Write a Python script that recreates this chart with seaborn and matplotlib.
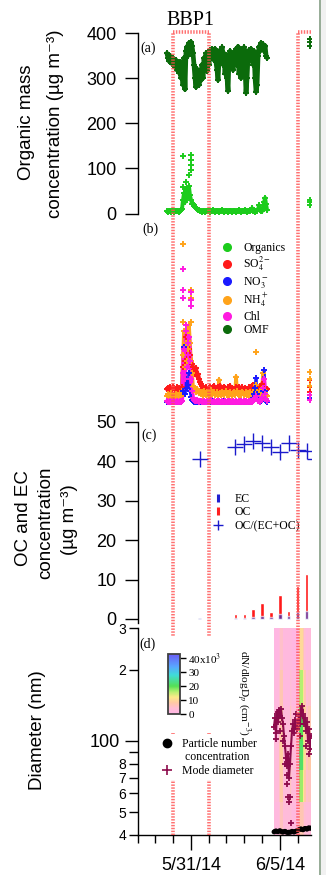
import numpy as np
import pandas as pd
import matplotlib
matplotlib.use("Agg")
import matplotlib.pyplot as plt
import matplotlib.dates as mdates
import matplotlib.ticker as mticker
from matplotlib.colors import LinearSegmentedColormap, Normalize
from matplotlib.lines import Line2D
from matplotlib.patches import Rectangle
import seaborn as sns

# ---------------- data ----------------
t_origin = "2014-05-28 00:00"
t_end = "2014-06-06 18:00"
bbp_starts = ["2014-05-30 00:00", "2014-06-06 00:00"]
bbp_ends = ["2014-06-01 00:00", "2014-06-08 00:00"]
bbp_names = ["BBP1", "BBP2"]
date_ticks = ["2014-05-31", "2014-06-05"]

# AMS (regular sampling)
ams_start = "2014-05-29 15:45"
ams_step = "81min"
omf = [355, 345, 338, 350, 340, 332, 345, 335, 325, 340,
       318, 330, 312, 335, 300, 320, 285, 345, 275, 360,
       370, 350, 378, 365, 380, 372, 355, 330, 300, 280,
       320, 305, 285, 310, 295, 330, 300, 345, 325, 355,
       315, 340, 330, 362, 345, 365, 358, 340, 365, 335,
       318, 296, 340, 362, 340, 368, 330, 355, 310, 350,
       300, 272, 345, 360, 330, 350, 318, 355, 340, 365,
       330, 370, 310, 355, 300, 362, 340, 368, 320, 268,
       300, 350, 362, 340, 365, 355, 330, 360, 300, 270,
       285, 350, 370, 360, 378, 365, 375, 360, 372, 350,
       345]
organics = [5, 4, 6, 5, 4, 5, 6, 4, 5, 5,
            6, 5, 4, 6, 8, 10, 30, 45, 25, 55,
            35, 50, 60, 40, 30, 22, 20, 18, 15, 12,
            10, 8, 7, 6, 5, 4, 5, 6, 4, 5,
            5, 6, 5, 4, 5, 6, 7, 5, 4, 5,
            6, 5, 4, 5, 6, 8, 5, 4, 5, 6,
            5, 4, 5, 5, 6, 4, 5, 6, 5, 4,
            5, 6, 7, 5, 4, 5, 6, 5, 7, 5,
            4, 5, 6, 5, 8, 12, 6, 5, 4, 5,
            6, 10, 18, 8, 6, 5, 12, 25, 35, 20,
            8]
so4 = [2.3, 2.5, 2.2, 2.6, 2.4, 2.3, 2.7, 2.5, 2.2, 2.4,
       2.6, 2.3, 2.5, 2.4, 2.2, 2.6, 6.0, 9.0, 7.0, 11.0,
       8.0, 10.0, 9.0, 8.0, 7.0, 6.5, 6.0, 5.5, 5.0, 5.8,
       4.5, 4.8, 4.0, 3.5, 3.2, 2.8, 2.5, 2.2, 2.4, 2.6,
       2.3, 2.1, 2.5, 2.7, 2.4, 2.2, 2.6, 2.8, 2.3, 2.1,
       2.4, 2.6, 2.5, 2.9, 2.3, 2.1, 2.4, 2.7, 2.5, 2.3,
       2.2, 2.6, 2.4, 2.8, 2.2, 2.5, 2.3, 2.1, 2.4, 2.6,
       2.3, 2.5, 2.7, 2.4, 2.2, 2.6, 2.3, 2.1, 2.5, 2.2,
       2.0, 2.4, 2.6, 2.3, 2.1, 2.8, 3.0, 2.6, 2.4, 2.2,
       2.5, 2.7, 2.4, 2.2, 2.6, 3.2, 2.5, 2.3, 2.0, 2.2,
       2.4]
nh4 = [1.2, 1.5, 1.0, 1.3, 1.6, 1.1, 1.4, 1.2, 1.0, 1.5,
       1.3, 1.1, 1.4, 1.6, 1.2, 2.0, 8.0, 12.0, 6.0, 10.0,
       7.0, 9.0, 13.0, 10.0, 7.0, 5.0, 2.8, 2.2, 2.5, 1.8,
       2.4, 2.0, 1.6, 1.9, 1.5, 1.8, 1.2, 2.0, 1.6, 1.3,
       1.9, 1.5, 1.2, 1.7, 2.1, 1.4, 1.6, 1.9, 1.3, 1.5,
       1.8, 1.2, 3.9, 1.6, 1.4, 1.8, 1.5, 1.3, 1.7, 2.0,
       1.4, 1.6, 1.3, 1.8, 1.5, 1.2, 1.6, 1.9, 1.4, 4.4,
       2.0, 1.5, 1.3, 1.7, 1.4, 1.8, 1.6, 1.3, 1.5, 1.9,
       1.3, 1.6, 1.2, 1.8, 1.5, 1.4, 1.9, 1.6, 2.2, 3.0,
       1.8, 1.5, 1.3, 1.7, 2.0, 2.4, 5.0, 2.2, 1.6, 1.4,
       1.2]
chl = [0.3, 0.2, 0.1, 0.3, 0.2, 0.2, 0.1, 0.3, 0.2, 0.2,
       0.3, 0.1, 0.2, 0.3, 0.2, 0.4, 5.0, 9.0, 4.0, 12.0,
       6.0, 8.0, 11.0, 7.0, 4.0, 2.0, 0.8, 0.5, 0.4, 0.3,
       0.5, 0.3, 0.2, 0.4, 0.3, 0.2, 0.2, 0.4, 0.2, 0.1,
       0.3, 0.2, 0.2, 0.3, 0.5, 0.2, 0.1, 0.3, 0.2, 0.2,
       0.4, 0.2, 0.3, 0.2, 0.1, 0.3, 0.2, 0.2, 0.4, 0.2,
       0.1, 0.3, 0.2, 0.3, 0.2, 0.2, 0.4, 0.2, 0.1, 0.3,
       0.2, 0.2, 0.3, 0.2, 0.4, 0.2, 0.1, 0.3, 0.2, 0.3,
       0.2, 0.1, 0.3, 0.2, 0.4, 0.2, 0.3, 0.5, 0.8, 1.2,
       0.6, 0.4, 0.3, 0.2, 0.5, 1.0, 2.5, 4.0, 1.5, 0.6,
       0.3]
no3 = [0.1, 0.2, 0.1, 0.1, 0.2, 0.1, 0.1, 0.2, 0.1, 0.1,
       0.2, 0.1, 0.1, 0.2, 0.1, 0.3, 2.0, 9.4, 1.5, 4.0,
       2.5, 3.0, 5.0, 2.0, 1.0, 0.5, 0.3, 0.2, 0.2, 0.1,
       0.2, 0.1, 0.1, 0.2, 0.1, 0.2, 0.1, 0.1, 0.2, 0.1,
       0.1, 0.2, 0.1, 0.1, 0.2, 0.1, 0.3, 0.1, 0.1, 0.2,
       0.1, 0.1, 0.2, 0.1, 0.1, 0.2, 0.1, 0.3, 0.1, 0.1,
       0.2, 0.1, 0.1, 0.2, 0.1, 0.1, 0.2, 0.1, 0.1, 0.2,
       0.1, 0.1, 0.2, 0.1, 0.3, 0.1, 0.1, 0.2, 0.1, 0.1,
       0.2, 0.1, 0.1, 0.3, 0.2, 0.4, 0.8, 1.5, 2.5, 4.2,
       1.5, 0.6, 0.3, 0.2, 0.4, 0.8, 2.0, 5.5, 2.0, 0.4,
       0.2]

# extra AMS points (hours since origin)
org_extra_h = [61.3, 61.3, 72.1, 72.1, 72.1, 72.1, 69.4, 65.4, 232.6, 232.6, 232.6]
org_extra_v = [127, 58, 130, 118, 108, 97, 85, 70, 18, 25, 31]
omf_extra_h = [232.6, 232.6, 232.6]
omf_extra_v = [371, 379, 386]
so4_extra_h = [232.6, 232.6, 232.6]
so4_extra_v = [3.8, 2.6, 1.8]
nh4_extra_h = [61.3, 72.1, 72.1, 61.3, 68.1, 72.1, 159.8, 232.6, 232.6, 232.6]
nh4_extra_v = [26.5, 18.8, 17.5, 13.5, 12.0, 13.5, 8.5, 5.2, 4.0, 2.8]
chl_extra_h = [61.3, 61.3, 61.3, 72.1, 72.1, 72.1, 65.4, 68.1, 232.6, 232.6]
chl_extra_v = [22.3, 18.8, 17.5, 18.5, 17.2, 16.2, 13.0, 10.0, 1.3, 0.5]
no3_extra_h = [232.6]
no3_extra_v = [0.8]

# filter OC / EC
filter_times = ["2014-05-31 12:00", "2014-06-02 12:00", "2014-06-03 00:00", "2014-06-03 12:00",
                "2014-06-04 00:00", "2014-06-04 12:00", "2014-06-05 00:00", "2014-06-05 12:00",
                "2014-06-06 00:00", "2014-06-06 12:00", "2014-06-07 00:00"]
oc = [0.1, 1.3, 1.3, 2.5, 4.1, 1.8, 6.1, 2.0, 8.4, 11.4, 12.0]
ec = [0.3, 0.3, 0.2, 0.6, 0.7, 0.6, 1.3, 0.8, 1.8, 2.0, 2.2]
oc_ratio = [40.7, 43.6, 44.5, 45.3, 44.7, 43.7, 42.4, 44.6, 42.9, 42.6, 40.7]

# SMPS
smps_start = "2014-06-04 16:05"
smps_step = "81min"
mode_diam = [115, 125, 108, 130, 120, 135, 128, 137, 125, 118,
             105, 95, 85, 78, 88, 70, 80, 95, 110, 118,
             108, 122, 115, 112, 120, 128, 118, 135, 140, 130,
             118, 125, 110, 120, 100, 112, 92, 105]
pnc = [1500, 1800, 2000, 1700, 1600, 1900, 2100, 1800, 1500, 1400,
       1600, 1800, 1500, 1300, 1200, 1400, 1300, 1500, 1800, 1600,
       1400, 1700, 1900, 2000, 2300, 2600, 2800, 3000, 2700, 2500,
       2900, 3200, 3000, 2800, 3300, 3500, 3200, 3400]
mode_extra_h = [201.6, 202.9, 204.3, 205.6, 207.0, 198.9, 201.6, 227.2, 231.2, 186.7,
                192.1, 196.2, 219.1, 213.7, 189.4]
mode_extra_v = [66, 58, 55, 58, 45, 80, 72, 95, 88, 102, 110, 100, 105, 130, 132]
heat_edges_days = [7.67, 7.95, 8.03, 8.18, 8.55, 8.62, 8.70, 9.05, 9.10, 9.30, 9.36, 9.47, 9.58, 9.80]
heat_diam_edges = [40, 55, 75, 100, 140, 200, 300]
heat_values = [
    [2, 4, 6, 3, 4, 3, 2, 5, 7, 6, 4, 3, 3],
    [3, 6, 8, 3, 6, 4, 3, 9, 17, 12, 8, 5, 6],
    [3, 7, 9, 4, 7, 5, 3, 12, 21, 14, 10, 6, 8],
    [2, 6, 8, 3, 6, 4, 3, 11, 20, 13, 9, 5, 7],
    [2, 5, 7, 2, 4, 3, 2, 8, 16, 11, 7, 4, 5],
    [1, 3, 5, 2, 2, 2, 1, 5, 10, 7, 4, 2, 3],
]
cbar_ticks = [0, 10, 20, 30, 40]
cbar_ticklabels = ["0", "10", "20", "30", "40x10$^3$"]

# ---------------- style ----------------
sns.set_style("ticks", {"axes.edgecolor": "black", "xtick.color": "black",
                        "ytick.color": "black", "text.color": "black"})
plt.rcParams["font.family"] = ["Liberation Sans", "DejaVu Sans"]
plt.rcParams["mathtext.fontset"] = "stix"
SERIF = "Liberation Serif"

C_OMF = "#0b6b0b"
C_ORG = "#1ccc1c"
C_SO4 = "#ff1a1a"
C_NO3 = "#1a1aff"
C_NH4 = "#ffa31a"
C_CHL = "#ff1ae0"
C_MODE = "#8c0a4b"
C_LINE = "#ff4d4d"

W, H = 326, 875
fig = plt.figure(figsize=(W / 100, H / 100), dpi=100)
fig.patch.set_facecolor("white")


def add_ax(x0, x1, ytop, ybot, **kw):
    return fig.add_axes([x0 / W, 1 - ybot / H, (x1 - x0) / W, (ybot - ytop) / H], **kw)


def hours_to_num(h):
    return mdates.date2num((pd.Timestamp(t_origin) + pd.to_timedelta(np.asarray(h, float), unit="h")).to_numpy())


def reg_times(start, step, n):
    return mdates.date2num(pd.date_range(start, periods=n, freq=step).to_numpy())


def dnum(strings):
    return mdates.date2num(pd.to_datetime(strings).to_numpy())


XL, XR = 137.5, 311
xlim = (mdates.date2num(pd.Timestamp(t_origin)), mdates.date2num(pd.Timestamp(t_end)))

ax_a = add_ax(XL, XR, 33, 213.5)
ax_b = add_ax(XL, XR, 214, 419)
ax_c = add_ax(XL, XR, 422, 623)
ax_d = add_ax(XL, XR, 628, 835)
for ax in (ax_a, ax_b, ax_c, ax_d):
    ax.set_xlim(*xlim)
    ax.set_facecolor("none")

t_ams = reg_times(ams_start, ams_step, len(omf))


def series(ax, t, v, color, lw, s, mew, eh=None, ev=None):
    sns.lineplot(x=t, y=v, ax=ax, color=color, lw=lw, estimator=None, sort=False, legend=False, zorder=2)
    sns.scatterplot(x=t, y=v, ax=ax, color=color, marker="+", s=s, linewidth=mew, legend=False, zorder=3)
    if eh is not None:
        sns.scatterplot(x=hours_to_num(eh), y=ev, ax=ax, color=color, marker="+", s=s,
                        linewidth=mew, legend=False, zorder=3)


# ---- panel (a)
series(ax_a, t_ams, omf, C_OMF, 3.4, 16, 1.4, omf_extra_h, omf_extra_v)
series(ax_a, t_ams, organics, C_ORG, 2.8, 16, 1.4, org_extra_h, org_extra_v)
ax_a.set_ylim(0, 400)
ax_a.set_yticks([0, 100, 200, 300, 400])

# ---- panel (b)
series(ax_b, t_ams, so4, C_SO4, 3.0, 16, 1.4, so4_extra_h, so4_extra_v)
series(ax_b, t_ams, nh4, C_NH4, 2.6, 16, 1.4, nh4_extra_h, nh4_extra_v)
series(ax_b, t_ams, no3, C_NO3, 2.0, 16, 1.4, no3_extra_h, no3_extra_v)
series(ax_b, t_ams, chl, C_CHL, 3.0, 16, 1.4, chl_extra_h, chl_extra_v)
ax_b.set_ylim(-2.67, 31.5)
ax_b.axis("off")
leg_b_handles = [Line2D([], [], ls="none", marker="o", ms=5.5, color=c)
                 for c in (C_ORG, C_SO4, C_NO3, C_NH4, C_CHL, C_OMF)]
leg_b_labels = ["Organics", "SO$_4^{2-}$", "NO$_3^-$", "NH$_4^+$", "Chl", "OMF"]
ax_b.legend(leg_b_handles, leg_b_labels, loc="upper left", bbox_to_anchor=(221 / W, 1 - 242 / H),
            bbox_transform=fig.transFigure, frameon=False, prop={"family": SERIF, "size": 8.5},
            handlelength=1.0, handletextpad=0.9, labelspacing=0.12, borderpad=0, borderaxespad=0)

# ---- panel (c)
tf = dnum(filter_times)
ax_c.bar(tf, oc, width=0.19, color="#ff1a1a", zorder=2)
ax_c.bar(tf, ec, width=0.19, color="#3030c0", alpha=0.65, zorder=3)
sns.scatterplot(x=tf, y=oc_ratio, ax=ax_c, marker="+", s=120, linewidth=1.0, color="#1a1acc",
                legend=False, zorder=4)
ax_c.set_ylim(-1.02, 50)
ax_c.set_yticks([0, 10, 20, 30, 40, 50])
leg_c_handles = [Line2D([], [], ls="none", marker="|", ms=6, mew=2.2, color="#2020d0"),
                 Line2D([], [], ls="none", marker="|", ms=6, mew=2.2, color="#ff2020"),
                 Line2D([], [], ls="none", marker="+", ms=7, mew=1.0, color="#1a1acc")]
ax_c.legend(leg_c_handles, ["EC", "OC", "OC/(EC+OC)"], loc="upper left",
            bbox_to_anchor=(211 / W, 1 - 493 / H), bbox_transform=fig.transFigure, frameon=False,
            prop={"family": SERIF, "size": 8.5}, handlelength=1.2, handletextpad=0.8,
            labelspacing=0.12, borderpad=0, borderaxespad=0)

# ---- panel (d)
node_vals = [0, 4, 8, 12, 16, 20, 28, 34, 43]
node_cols = ["#ffb5e5", "#ffbdd5", "#ffc9a5", "#fde98a", "#b5f070", "#55e055", "#40dcd8", "#58a6ff", "#6b5cf5"]
cmap = LinearSegmentedColormap.from_list("dn", list(zip(np.array(node_vals) / 43.0, node_cols)))
norm = Normalize(vmin=0, vmax=43)
hx = mdates.date2num((pd.Timestamp(t_origin) + pd.to_timedelta(np.asarray(heat_edges_days), unit="D")).to_numpy())
mesh = ax_d.pcolormesh(hx, heat_diam_edges, np.array(heat_values, float), cmap=cmap, norm=norm,
                       shading="flat", zorder=1)
ax_d.set_yscale("log")
ax_d.set_ylim(40, 300)
t_smps = reg_times(smps_start, smps_step, len(mode_diam))
sns.lineplot(x=t_smps, y=mode_diam, ax=ax_d, color=C_MODE, lw=1.5, estimator=None, sort=False,
             legend=False, zorder=3)
sns.scatterplot(x=t_smps, y=mode_diam, ax=ax_d, color=C_MODE, marker="+", s=18, linewidth=1.3,
                legend=False, zorder=4)
sns.scatterplot(x=hours_to_num(mode_extra_h), y=mode_extra_v, ax=ax_d, color=C_MODE, marker="+",
                s=18, linewidth=1.3, legend=False, zorder=4)
ax_p = ax_d.twinx()
ax_p.set_xlim(*xlim)
ax_p.set_ylim(0, 1e5)
sns.lineplot(x=t_smps, y=pnc, ax=ax_p, color="black", lw=2.5, estimator=None, sort=False,
             legend=False)
sns.scatterplot(x=t_smps, y=pnc, ax=ax_p, color="black", marker="o", s=12, edgecolor="none",
                legend=False)
ax_p.axis("off")

ax_d.yaxis.set_major_locator(mticker.FixedLocator([100]))
ax_d.yaxis.set_major_formatter(mticker.FixedFormatter(["100"]))
ax_d.yaxis.set_minor_locator(mticker.FixedLocator([40, 50, 60, 70, 80, 90, 200, 300]))
ax_d.yaxis.set_minor_formatter(mticker.FixedFormatter(["4", "5", "6", "7", "8", "", "2", "3"]))
ax_d.xaxis.set_major_locator(mticker.FixedLocator(dnum(date_ticks)))
ax_d.xaxis.set_major_formatter(mdates.DateFormatter("%-m/%-d/%y"))
ax_d.xaxis.set_minor_locator(mdates.DayLocator())

# spines / ticks
for ax in (ax_a, ax_c, ax_d):
    for s in ("top", "right"):
        ax.spines[s].set_visible(False)
    ax.spines["left"].set_linewidth(1.0)
    ax.tick_params(axis="y", which="major", direction="out", length=9.5, width=1.0,
                   labelsize=13, pad=5.5)
for ax in (ax_a, ax_c):
    ax.spines["bottom"].set_visible(False)
    ax.tick_params(axis="x", which="both", bottom=False, labelbottom=False)
ax_d.spines["bottom"].set_linewidth(1.0)
ax_d.tick_params(axis="y", which="major", pad=3.5)
ax_d.tick_params(axis="y", which="minor", direction="out", length=6.5, width=1.0, labelsize=10, pad=1.5)
ax_d.tick_params(axis="x", which="major", direction="out", length=11, width=1.0, labelsize=13, pad=5)
ax_d.tick_params(axis="x", which="minor", direction="out", length=5.5, width=1.0)

# ---- overlay: BBP period markers
ax_ov = add_ax(XL, XR, 29, 835, zorder=5)
ax_ov.set_xlim(*xlim)
ax_ov.set_ylim(0, 1)
ax_ov.axis("off")
ytop = (835 - 32) / (835 - 29)
line_kw = dict(color=C_LINE, lw=2.6, alpha=0.8, dashes=(0.4, 0.4))
for s, e, name in zip(dnum(bbp_starts), dnum(bbp_ends), bbp_names):
    ax_ov.plot([s, s], [0, ytop], **line_kw)
    ax_ov.plot([e, e], [0, ytop], **line_kw)
    ax_ov.plot([s, e], [ytop, ytop], **line_kw)
    mid = 0.5 * (s + e)
    if mid < xlim[1]:
        ax_ov.text(mid, (835 - 21) / (835 - 29), name, ha="center", va="center",
                   family=SERIF, fontsize=14.5, clip_on=False)

ax_ov.add_patch(Rectangle((155 / W, 1 - 733 / H), (262 - 155) / W, (733 - 637) / H,
                          transform=fig.transFigure, facecolor="white", edgecolor="none", zorder=3))
leg_d = ax_ov.legend([Line2D([], [], ls="none", marker="o", ms=6, color="black"),
                      Line2D([], [], ls="none"),
                      Line2D([], [], ls="none", marker="+", ms=6.5, mew=1.2, color=C_MODE)],
                     ["Particle number", " concentration", "Mode diameter"],
                     loc="upper left", bbox_to_anchor=(158 / W, 1 - 735 / H),
                     bbox_transform=fig.transFigure, frameon=True, facecolor="white",
                     edgecolor="none", framealpha=1, fancybox=False,
                     prop={"family": SERIF, "size": 8.5}, handlelength=1.0, handletextpad=0.8,
                     labelspacing=0.12, borderpad=0.25, borderaxespad=0)

# colorbar
cax = add_ax(168, 180, 654, 714, zorder=10)
cbar = fig.colorbar(mesh, cax=cax, ticks=cbar_ticks)
cbar.ax.set_yticklabels(cbar_ticklabels, fontfamily=SERIF, fontsize=8)
cbar.ax.tick_params(length=4, width=1.0, pad=2, direction="out")
cbar.outline.set_linewidth(1.3)
cbar.outline.set_edgecolor("#404040")
fig.text(243 / W, 1 - 693 / H, "dN/dlogD$_p$ (cm$^{-3}$)", rotation=270, ha="center", va="center",
         family=SERIF, fontsize=8.2, zorder=20)

# panel labels and axis titles
for lab, x, y in (("(a)", 140, 48), ("(b)", 142, 229), ("(c)", 141, 435), ("(d)", 139, 644)):
    fig.text(x / W, 1 - y / H, lab, ha="left", va="center", family=SERIF, fontsize=10, zorder=20)
fig.text(27 / W, 1 - 122 / H, "Organic mass", rotation=90, ha="center", va="center", fontsize=13.5)
fig.text(56 / W, 1 - 124 / H, "concentration (µg m⁻³)", rotation=90, ha="center", va="center",
         fontsize=13.5)
fig.text(24 / W, 1 - 518 / H, "OC and EC", rotation=90, ha="center", va="center", fontsize=13.5)
fig.text(46 / W, 1 - 523 / H, "concentration", rotation=90, ha="center", va="center", fontsize=13.5)
fig.text(70 / W, 1 - 520 / H, "(µg m⁻³)", rotation=90, ha="center", va="center", fontsize=13.5)
fig.text(37 / W, 1 - 730 / H, "Diameter (nm)", rotation=90, ha="center", va="center", fontsize=13.5)

# right border of the source picture
fig.patches.append(Rectangle((319 / W, 0), 2 / W, 1, transform=fig.transFigure,
                             facecolor="#98ad98", edgecolor="none", zorder=30))
fig.patches.append(Rectangle((321 / W, 0), 5 / W, 1, transform=fig.transFigure,
                             facecolor="#f1f1f1", edgecolor="none", zorder=30))

fig.savefig("out.png", dpi=100)
